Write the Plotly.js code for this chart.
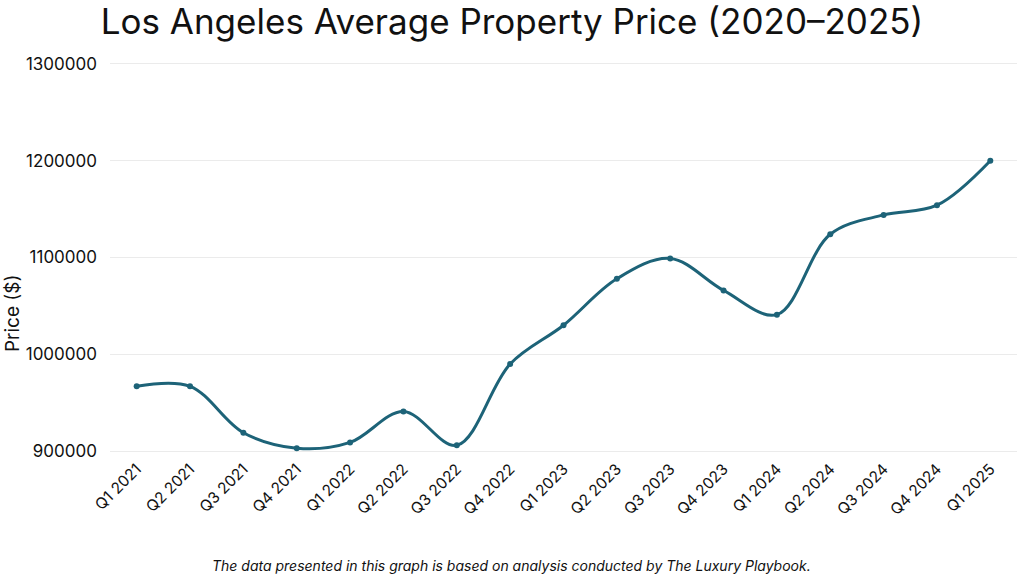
<!DOCTYPE html>
<html>
<head>
<meta charset="utf-8">
<script src="https://cdn.plot.ly/plotly-3.0.1.min.js"></script>
<style>html,body{margin:0;padding:0;background:#fff;}#chart{width:1024px;height:576px;}</style>
</head>
<body>
<div id="chart"></div>
<script>
const quarters = ["Q1 2021","Q2 2021","Q3 2021","Q4 2021","Q1 2022","Q2 2022","Q3 2022","Q4 2022","Q1 2023","Q2 2023","Q3 2023","Q4 2023","Q1 2024","Q2 2024","Q3 2024","Q4 2024","Q1 2025"];
const prices = [967000, 967000, 919000, 903000, 909000, 941000, 906000, 990000, 1030000, 1078000, 1099000, 1066000, 1041000, 1124000, 1144000, 1154000, 1200000];
const yTicks = [900000, 1000000, 1100000, 1200000, 1300000];

const font = "Inter, 'Open Sans', sans-serif";
const trace = {
  x: quarters, y: prices, type: "scatter", mode: "lines+markers",
  line: {shape: "spline", smoothing: 1, color: "#1d6378", width: 3},
  marker: {color: "#1d6378", size: 6},
  hoverinfo: "x+y"
};
const layout = {
  width: 1024, height: 576,
  margin: {l: 110, r: 7, t: 59, b: 120},
  paper_bgcolor: "#ffffff", plot_bgcolor: "#ffffff",
  title: {text: "Los Angeles Average Property Price (2020–2025)", font: {family: font, size: 35, color: "#111"}, x: 0.5, xanchor: "center", y: 0.962, yanchor: "middle"},
  showlegend: false,
  xaxis: {type: "category", range: [-0.5, 16.5], tickangle: -45, showgrid: false, zeroline: false, showline: false,
    tickfont: {family: font, size: 15.5, color: "#111"}, ticks: ""},
  yaxis: {range: [895000, 1305000], tickvals: yTicks, ticktext: yTicks.map(String), showgrid: true, gridcolor: "#ebebeb", zeroline: false, showline: false,
    tickfont: {family: font, size: 17, color: "#111"}, ticks: "", ticklabelstandoff: 12},
  annotations: [
    {text: "Price ($)", textangle: -90, xref: "paper", yref: "paper", x: -0.108, y: 0.36, xanchor: "center", yanchor: "middle", showarrow: false, font: {family: font, size: 19, color: "#111"}},
    {text: "<i>The data presented in this graph is based on analysis conducted by The Luxury Playbook.</i>", xref: "paper", yref: "paper", x: 0.443, y: -0.277, xanchor: "center", yanchor: "middle", showarrow: false, font: {family: font, size: 14, color: "#111"}}
  ]
};
Plotly.newPlot("chart", [trace], layout, {displayModeBar: false});
</script>
</body>
</html>
